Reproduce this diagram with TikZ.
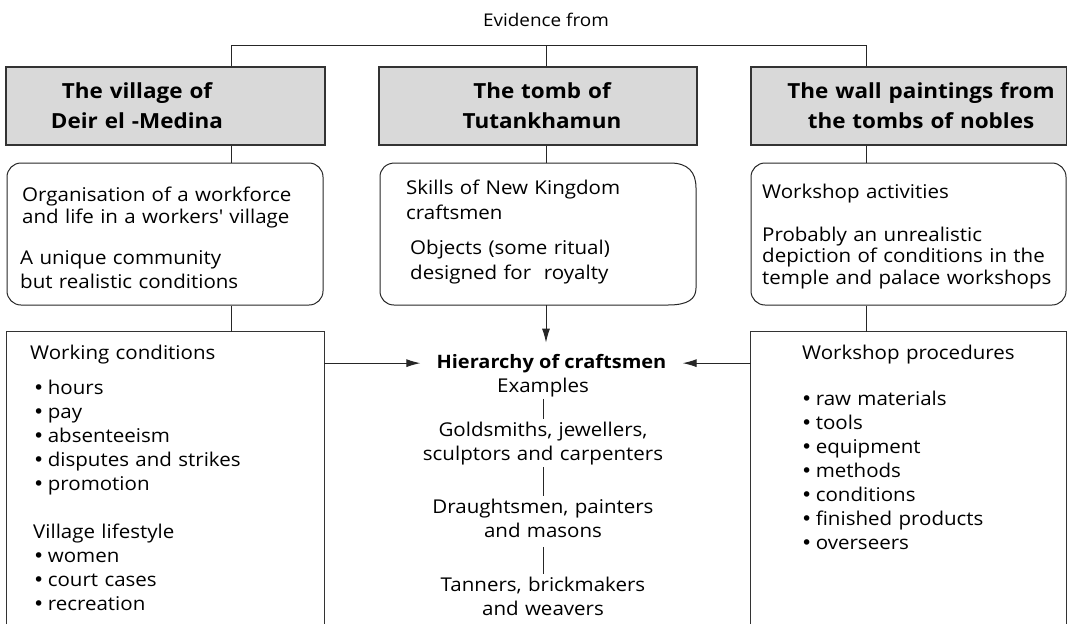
\documentclass[tikz,border=0pt]{standalone}
\usepackage{fontspec}
\setmainfont[FakeStretch=1.08]{Open Sans}
\newfontfamily\bulfont{DejaVu Sans}
\usetikzlibrary{arrows.meta}
\newcommand\bul{{\bulfont •}\hspace{0.18em}}
\begin{document}
\begin{tikzpicture}[x=1pt,y=-1pt,
  conn/.style={draw=black!85, line width=1pt},
  graybox/.style={draw=black!80, fill=black!15, line width=1.3pt, minimum height=78pt, inner sep=0pt},
  roundbox/.style={draw=black!85, line width=1pt, rounded corners=14pt, minimum height=142pt, inner sep=0pt},
  ghost/.style={draw=none, inner sep=0pt},
  openbox/.style={draw=black!80, line width=1.3pt},
  body/.style={inner sep=0pt, text width=300pt, align=left, anchor=base west},
  head/.style={font=\fontsize{20.8}{30}\selectfont\bfseries, inner sep=0pt, text width=300pt, align=center, anchor=base},
  mid/.style={font=\fontsize{19}{24}\selectfont, inner xsep=0pt, inner ysep=2pt, text width=280pt, align=center, anchor=base},
  arr/.style={conn, -{Latex[length=14pt,width=8pt]}},
]
\useasboundingbox (0,0) rectangle (1068,624);

% top
\node[font=\fontsize{17.5}{20}\selectfont, inner sep=0pt, anchor=base] (ev) at (546,26) {Evidence from};

% gray boxes
\node[graybox, minimum width=319pt] (g1) at (165.5,106) {};
\node[graybox, minimum width=318pt] (g2) at (538,106) {};
\node[graybox, minimum width=315.5pt] (g3) at (908.75,106) {};
\node[head] (t1) at (137,98) {The village of\\Deir el -Medina};
\node[head] (t2) at (542,98) {The tomb of\\Tutankhamun};
\node[head] (t3) at (921,98) {The wall paintings from\\the tombs of nobles};

% second row
\node[roundbox, minimum width=316pt] (r1) at (165,234) {};
\node[ghost, minimum width=316pt, minimum height=142pt] (r2) at (538,234) {};
\node[roundbox, minimum width=315pt] (r3) at (908.5,234) {};
\draw[draw=black!85, line width=1pt]
  (395,163) -- (670,163) .. controls (688,163) and (696,172) .. (696,188)
  -- (696,288) .. controls (696,299) and (688,305) .. (668,305)
  -- (394,305) .. controls (386,305) and (380,299) .. (380,291)
  -- (380,177) .. controls (380,169) and (386,163) .. (395,163) -- cycle;

\node[body, font=\fontsize{19}{22.5}\selectfont] (r1a) at (22,201) {Organisation of a workforce\\and life in a workers\textquotesingle{} village};
\node[body, font=\fontsize{19}{24}\selectfont] (r1b) at (20,264) {A unique community\\but realistic conditions};
\node[body, font=\fontsize{19}{25}\selectfont] (r2a) at (406,194) {Skills of New Kingdom\\craftsmen};
\node[body, font=\fontsize{19}{25}\selectfont] (r2b) at (410,254) {Objects (some ritual)\\designed for\ \ royalty};
\node[body, font=\fontsize{19}{21.5}\selectfont] (r3a) at (762,198) {Workshop activities};
\node[body, font=\fontsize{19}{21.5}\selectfont] (r3b) at (762,241) {Probably an unrealistic\\depiction of conditions in the\\temple and palace workshops};

% third row
\node[ghost, minimum width=317pt, minimum height=292pt] (b1) at (165.5,478) {};
\node[ghost, minimum width=315.5pt, minimum height=292pt] (b3) at (908.75,478) {};
\draw[openbox] (b1.south west) -- (b1.north west) -- (b1.north east) -- (b1.south east);
\draw[openbox] (b3.south west) -- (b3.north west) -- (b3.north east) -- (b3.south east);

\node[body, font=\fontsize{19}{24}\selectfont] (b1h) at (30,359) {Working conditions};
\node[body, font=\fontsize{19}{24}\selectfont] (b1l) at (33,394) {\bul hours\\\bul pay\\\bul absenteeism\\\bul disputes and strikes\\\bul promotion};
\node[body, font=\fontsize{19}{24.3}\selectfont] (b1v) at (33,538) {Village lifestyle\\\bul women\\\bul court cases\\\bul recreation};

\node[body, font=\fontsize{19}{24}\selectfont] (b3h) at (802,359) {Workshop procedures};
\node[body, font=\fontsize{19}{24}\selectfont] (b3l) at (801,405) {\bul raw materials\\\bul tools\\\bul equipment\\\bul methods\\\bul conditions\\\bul finished products\\\bul overseers};

% hierarchy
\node[font=\fontsize{18.5}{24}\selectfont\bfseries, inner xsep=16pt, inner ysep=11pt, anchor=base] (hier) at (551.5,368) {Hierarchy of craftsmen};
\node[mid] (ex) at (543,392) {Examples};
\node[mid] (gold) at (543,436) {Goldsmiths, jewellers,\\sculptors and carpenters};
\node[mid] (dr) at (543,513) {Draughtsmen, painters\\and masons\vphantom{g}};
\node[mid] (tan) at (543,591) {Tanners, brickmakers\\and weavers};

% connectors
\coordinate (L) at (231,45);
\coordinate (M) at (546,45);
\coordinate (R) at (866,45);
\draw[conn] (L |- g1.north) -- (L) -- (R) -- (R |- g3.north);
\draw[conn] (M) -- (M |- g2.north);
\draw[conn] (L |- g1.south) -- (L |- r1.north);
\draw[conn] (M |- g2.south) -- (M |- r2.north);
\draw[conn] (R |- g3.south) -- (R |- r3.north);
\draw[conn] (L |- r1.south) -- (L |- b1.north);
\draw[conn] (R |- r3.south) -- (R |- b3.north);
\draw[arr] (M |- r2.south) -- (M |- hier.north);
\draw[arr] (b1.east |- hier.west) -- (hier.west);
\draw[arr] (b3.west |- hier.east) -- (hier.east);
\draw[conn] (ex.south) -- (gold.north);
\draw[conn] (gold.south) -- (dr.north);
\draw[conn, shorten <=3pt] (dr.south) -- (tan.north);
\end{tikzpicture}
\end{document}
